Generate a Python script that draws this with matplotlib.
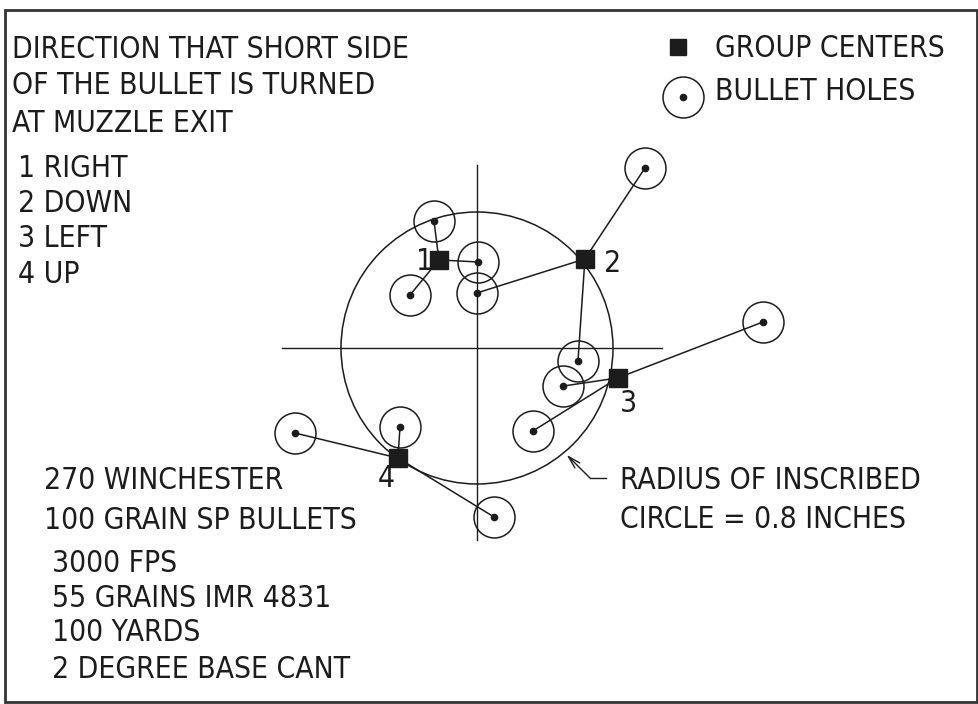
import numpy as np
import matplotlib.pyplot as plt
from matplotlib.patches import Circle, Rectangle

# shot positions in inches from the aiming point (x right, y up)
groups = ["1", "2", "3", "4"]
center_x = [-0.224, 0.635, 0.829, -0.465]
center_y = [0.518, 0.524, -0.176, -0.647]
holes_x = [[-0.253, 0.006, -0.394],
           [0.988, 0.000, 0.594],
           [1.682, 0.506, 0.329],
           [-1.071, -0.453, 0.100]]
holes_y = [[0.747, 0.506, 0.312],
           [1.059, 0.324, -0.076],
           [0.153, -0.224, -0.488],
           [-0.500, -0.465, -0.994]]
circle_radius = 0.8

W, H = 979, 704
ppi = 170            # picture pixels per inch on target
ox, oy = 477, 348    # aiming point in picture pixels
ink = "#1c1c1c"

fig = plt.figure(figsize=(W / 100, H / 100), dpi=100)
ax = fig.add_axes([0, 0, 1, 1])
ax.set_xlim(-ox / ppi, (W - ox) / ppi)
ax.set_ylim(-(H - oy) / ppi, oy / ppi)
ax.set_aspect("equal")
ax.axis("off")


def label(xp, yp, s, size=21.5):
    fig.text(xp / W, 1 - yp / H, s, ha="left", va="baseline",
             fontsize=size, family="DejaVu Sans", fontstretch="condensed",
             color=ink)


# frame
fig.patches.append(Rectangle((5 / W, 1 - 702 / H), 972 / W, 692 / H,
                             transform=fig.transFigure, fill=False,
                             lw=2, edgecolor="#333333"))

# inscribed circle and crosshair
ax.add_patch(Circle((0, 0), circle_radius, fill=False, lw=1.1, edgecolor=ink))
ax.plot([-1.147, 1.088], [0, 0], color=ink, lw=1.0)
ax.plot([0, 0], [-1.129, 1.076], color=ink, lw=1.0)

# groups
for g in range(len(groups)):
    for hx, hy in zip(holes_x[g], holes_y[g]):
        ax.plot([center_x[g], hx], [center_y[g], hy], color=ink, lw=1.1)
    ax.plot(holes_x[g], holes_y[g], "o", ms=29.5, mfc="none", mec=ink, mew=1.1)
    ax.plot(holes_x[g], holes_y[g], "o", ms=4.5, color=ink)
    ax.plot(center_x[g], center_y[g], "s", ms=13.5, color=ink)

label(416, 270, groups[0])
label(604, 272, groups[1])
label(620, 412, groups[2])
label(378, 487, groups[3])

# leader to the inscribed circle
ang = np.deg2rad(-50)
tip = (0.82 * np.cos(ang), 0.82 * np.sin(ang))
elbow = ((590 - ox) / ppi, (oy - 478) / ppi)
end = ((606 - ox) / ppi, (oy - 478) / ppi)
ax.plot([elbow[0], end[0]], [elbow[1], end[1]], color=ink, lw=1.0)
ax.annotate("", xy=tip, xytext=elbow,
            arrowprops=dict(arrowstyle="->,head_length=0.9,head_width=0.25",
                            lw=1.0, color=ink, shrinkA=0, shrinkB=0))

# legend
lx, ly = (678 - ox) / ppi, (oy - 47) / ppi
ax.plot(lx, ly, "s", ms=11.5, color=ink)
cx, cy = (683 - ox) / ppi, (oy - 97) / ppi
ax.plot(cx, cy, "o", ms=29.5, mfc="none", mec=ink, mew=1.1)
ax.plot(cx, cy, "o", ms=4.5, color=ink)
label(715, 57, "GROUP CENTERS")
label(715, 100, "BULLET HOLES")

# notes
label(12, 58, "DIRECTION THAT SHORT SIDE")
label(12, 94, "OF THE BULLET IS TURNED")
label(12, 132, "AT MUZZLE EXIT")
label(18, 177, "1 RIGHT")
label(18, 212, "2 DOWN")
label(18, 247, "3 LEFT")
label(18, 283, "4 UP")

label(44, 489, "270 WINCHESTER")
label(44, 529, "100 GRAIN SP BULLETS")
label(52, 572, "3000 FPS")
label(52, 607, "55 GRAINS IMR 4831")
label(52, 641, "100 YARDS")
label(52, 678, "2 DEGREE BASE CANT")

label(620, 489, "RADIUS OF INSCRIBED")
label(620, 528, "CIRCLE = 0.8 INCHES")

plt.savefig("out.png", dpi=100)
